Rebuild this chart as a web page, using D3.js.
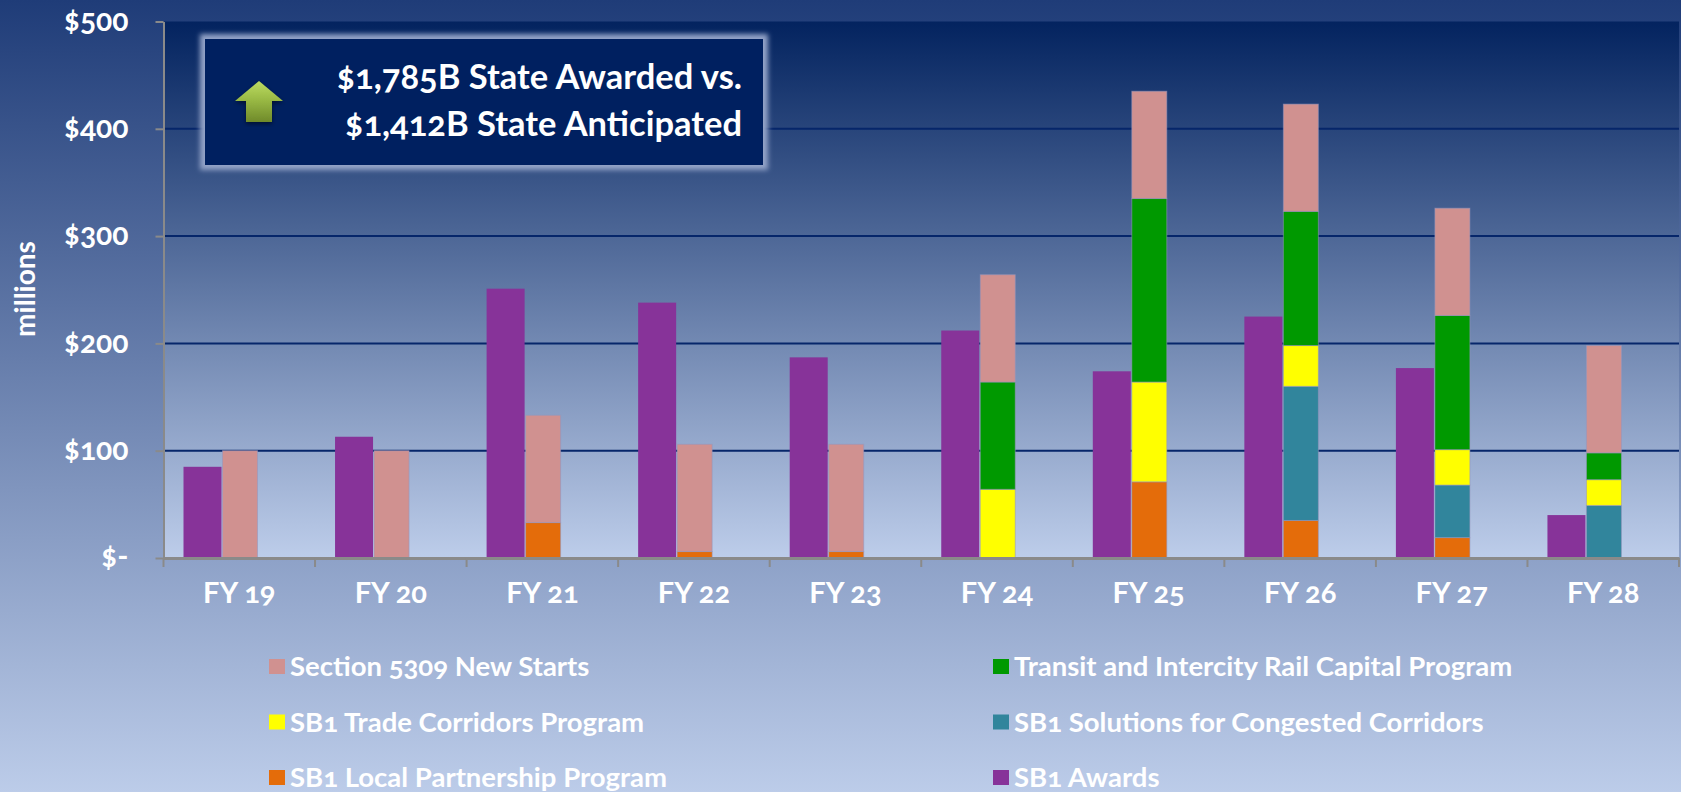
<!DOCTYPE html>
<html>
<head>
<meta charset="utf-8">
<script src="https://cdn.jsdelivr.net/npm/d3@7"></script>
<style>
  html, body { margin: 0; padding: 0; background: #bccbe9; overflow: hidden; }
  svg { display: block; }
  text { font-family: Lato, "Open Sans", sans-serif; font-weight: 700; fill: #fff; font-feature-settings: "onum" 1, "lnum" 0; }
</style>
</head>
<body>
<svg id="chart"></svg>
<script>
const years = ["FY 19", "FY 20", "FY 21", "FY 22", "FY 23", "FY 24", "FY 25", "FY 26", "FY 27", "FY 28"];

const awards   = [85, 113, 251, 238, 187, 212, 174, 225, 177, 40];
const local    = [0, 0, 33, 6, 6, 0, 71, 35, 19, 0];
const solutions = [0, 0, 0, 0, 0, 0, 0, 125, 49, 49];
const trade    = [0, 0, 0, 0, 0, 64, 93, 38, 33, 24];
const transit  = [0, 0, 0, 0, 0, 100, 171, 125, 125, 25];
const newStarts = [100, 100, 100, 100, 100, 100, 100, 100, 100, 100];

const yTicks = [0, 100, 200, 300, 400, 500];

const stackKeys = ["local", "solutions", "trade", "transit", "newStarts"];
const stackValues = { local, solutions, trade, transit, newStarts };
const colors = {
    awards: "#873399", local: "#e46c0a", solutions: "#31859c",
    trade: "#ffff00", transit: "#009900", newStarts: "#d09190"
};

// legend, two columns, top to bottom
const legendKeys = ["newStarts", "trade", "local", "transit", "solutions", "awards"];
const legendNames = [
    "Section 5309 New Starts", "SB1 Trade Corridors Program", "SB1 Local Partnership Program",
    "Transit and Intercity Rail Capital Program", "SB1 Solutions for Congested Corridors", "SB1 Awards"
];

const calloutLines = ["$1,785B State Awarded vs.", "$1,412B State Anticipated"];

const width = 1681, height = 792;
const plotLeft = 163.5, plotRight = 1679, plotTop = 21.5, plotBottom = 558;

const svg = d3.select("#chart").attr("width", width).attr("height", height);

const defs = svg.append("defs");

function addGradient(id, stops) {
    const g = defs.append("linearGradient").attr("id", id)
        .attr("x1", 0).attr("y1", 0).attr("x2", 0).attr("y2", 1);
    stops.forEach(s => g.append("stop").attr("offset", s[0]).attr("stop-color", s[1]));
}
addGradient("pageBg", [[0, "#1f3c78"], [1, "#bccce9"]]);
addGradient("plotBg", [[0, "#03235f"], [1, "#bdcdea"]]);
addGradient("arrowFill", [[0, "#bcdc62"], [0.45, "#9aba45"], [1, "#6f8a2a"]]);

defs.append("filter").attr("id", "glow")
    .attr("x", "-5%").attr("y", "-15%").attr("width", "110%").attr("height", "130%")
    .append("feGaussianBlur").attr("stdDeviation", 2.5);
defs.append("filter").attr("id", "shadow")
    .append("feDropShadow").attr("dx", 0).attr("dy", 2).attr("stdDeviation", 2)
    .attr("flood-color", "#000").attr("flood-opacity", 0.5);

svg.append("rect").attr("width", width).attr("height", height).attr("fill", "url(#pageBg)");
svg.append("rect").attr("x", plotLeft).attr("y", plotTop)
    .attr("width", plotRight - plotLeft).attr("height", plotBottom - plotTop).attr("fill", "url(#plotBg)");

const x = d3.scaleBand().domain(years).range([plotLeft, plotRight]);
const y = d3.scaleLinear().domain([0, 500]).range([plotBottom, plotTop]);

// gridlines
svg.append("g").selectAll("line")
    .data(yTicks.slice(1, -1))
    .join("line")
    .attr("x1", plotLeft).attr("x2", plotRight)
    .attr("y1", d => y(d)).attr("y2", d => y(d))
    .attr("stroke", "#06266a").attr("stroke-width", 2);

// bars
const barEdge = "rgba(150,150,190,0.55)";

svg.append("g").selectAll("rect")
    .data(awards)
    .join("rect")
    .attr("x", (d, i) => x(years[i]) + 20)
    .attr("y", d => y(d))
    .attr("width", 38)
    .attr("height", d => y(0) - y(d))
    .attr("fill", colors.awards);

const rows = years.map((year, i) => {
    const row = { year };
    stackKeys.forEach(k => { row[k] = stackValues[k][i]; });
    return row;
});
const series = d3.stack().keys(stackKeys)(rows);

svg.append("g").selectAll("g")
    .data(series)
    .join("g")
    .attr("fill", d => colors[d.key])
    .selectAll("rect")
    .data(d => d.filter(p => p[1] > p[0]))
    .join("rect")
    .attr("x", d => x(d.data.year) + 59)
    .attr("y", d => y(d[1]))
    .attr("width", 35)
    .attr("height", d => y(d[0]) - y(d[1]))
    .attr("stroke", barEdge)
    .attr("stroke-width", 1);

// axes
const yAxis = d3.axisLeft(y).tickValues(yTicks)
    .tickFormat(d => d === 0 ? "$-" : "$" + d)
    .tickSize(8).tickPadding(27).tickSizeOuter(0);
const yG = svg.append("g").attr("transform", `translate(${plotLeft},0)`).call(yAxis);
yG.selectAll("path, line").attr("stroke", "#8a8a8a").attr("stroke-width", 2);
yG.selectAll("text").attr("font-size", 30).attr("dy", "0.29em");

const xAxis = d3.axisBottom(x).tickSize(0).tickPadding(24).tickSizeOuter(0);
const xG = svg.append("g").attr("transform", `translate(0,${plotBottom})`).call(xAxis);
xG.select("path").attr("stroke", "#8a8a8a").attr("stroke-width", 3);
xG.selectAll("text").attr("font-size", 29).attr("dy", "0.71em");
xG.selectAll(".edge")
    .data(d3.range(years.length + 1))
    .join("line")
    .attr("class", "edge")
    .attr("x1", d => plotLeft + d * x.step()).attr("x2", d => plotLeft + d * x.step())
    .attr("y1", 0).attr("y2", 9)
    .attr("stroke", "#8a8a8a").attr("stroke-width", 2);

// y title
svg.append("text")
    .attr("transform", "translate(35,289) rotate(-90)")
    .attr("text-anchor", "middle")
    .attr("font-size", 28)
    .text("millions");

// legend
const legendX = d3.scaleOrdinal().domain([0, 1]).range([269, 993]);
const legendY = d3.scalePoint().domain([0, 1, 2]).range([667, 778]);
const legend = svg.append("g").selectAll("g")
    .data(legendKeys)
    .join("g")
    .attr("transform", (d, i) => `translate(${legendX(Math.floor(i / 3))},${legendY(i % 3)})`);
legend.append("rect").attr("y", -8).attr("width", 16).attr("height", 15)
    .attr("fill", d => colors[d]);
legend.append("text").attr("x", 21).attr("y", 9).attr("font-size", 27.5)
    .text((d, i) => legendNames[i]);

// callout
const callout = svg.append("g");
callout.append("rect").attr("x", 200).attr("y", 34).attr("width", 568).attr("height", 136)
    .attr("fill", "#93a3c8").attr("filter", "url(#glow)");
callout.append("rect").attr("x", 205).attr("y", 39).attr("width", 558).attr("height", 126)
    .attr("fill", "#002060");
callout.append("path")
    .attr("d", d3.line()([[259, 81], [283, 101], [272, 101], [272, 122], [246, 122], [246, 101], [235, 101]]) + "Z")
    .attr("fill", "url(#arrowFill)").attr("filter", "url(#shadow)");
callout.selectAll("text.line")
    .data(calloutLines)
    .join("text")
    .attr("class", "line")
    .attr("x", 742)
    .attr("y", (d, i) => 89 + i * 47)
    .attr("text-anchor", "end")
    .attr("font-size", 34.5)
    .text(d => d);
</script>
</body>
</html>
